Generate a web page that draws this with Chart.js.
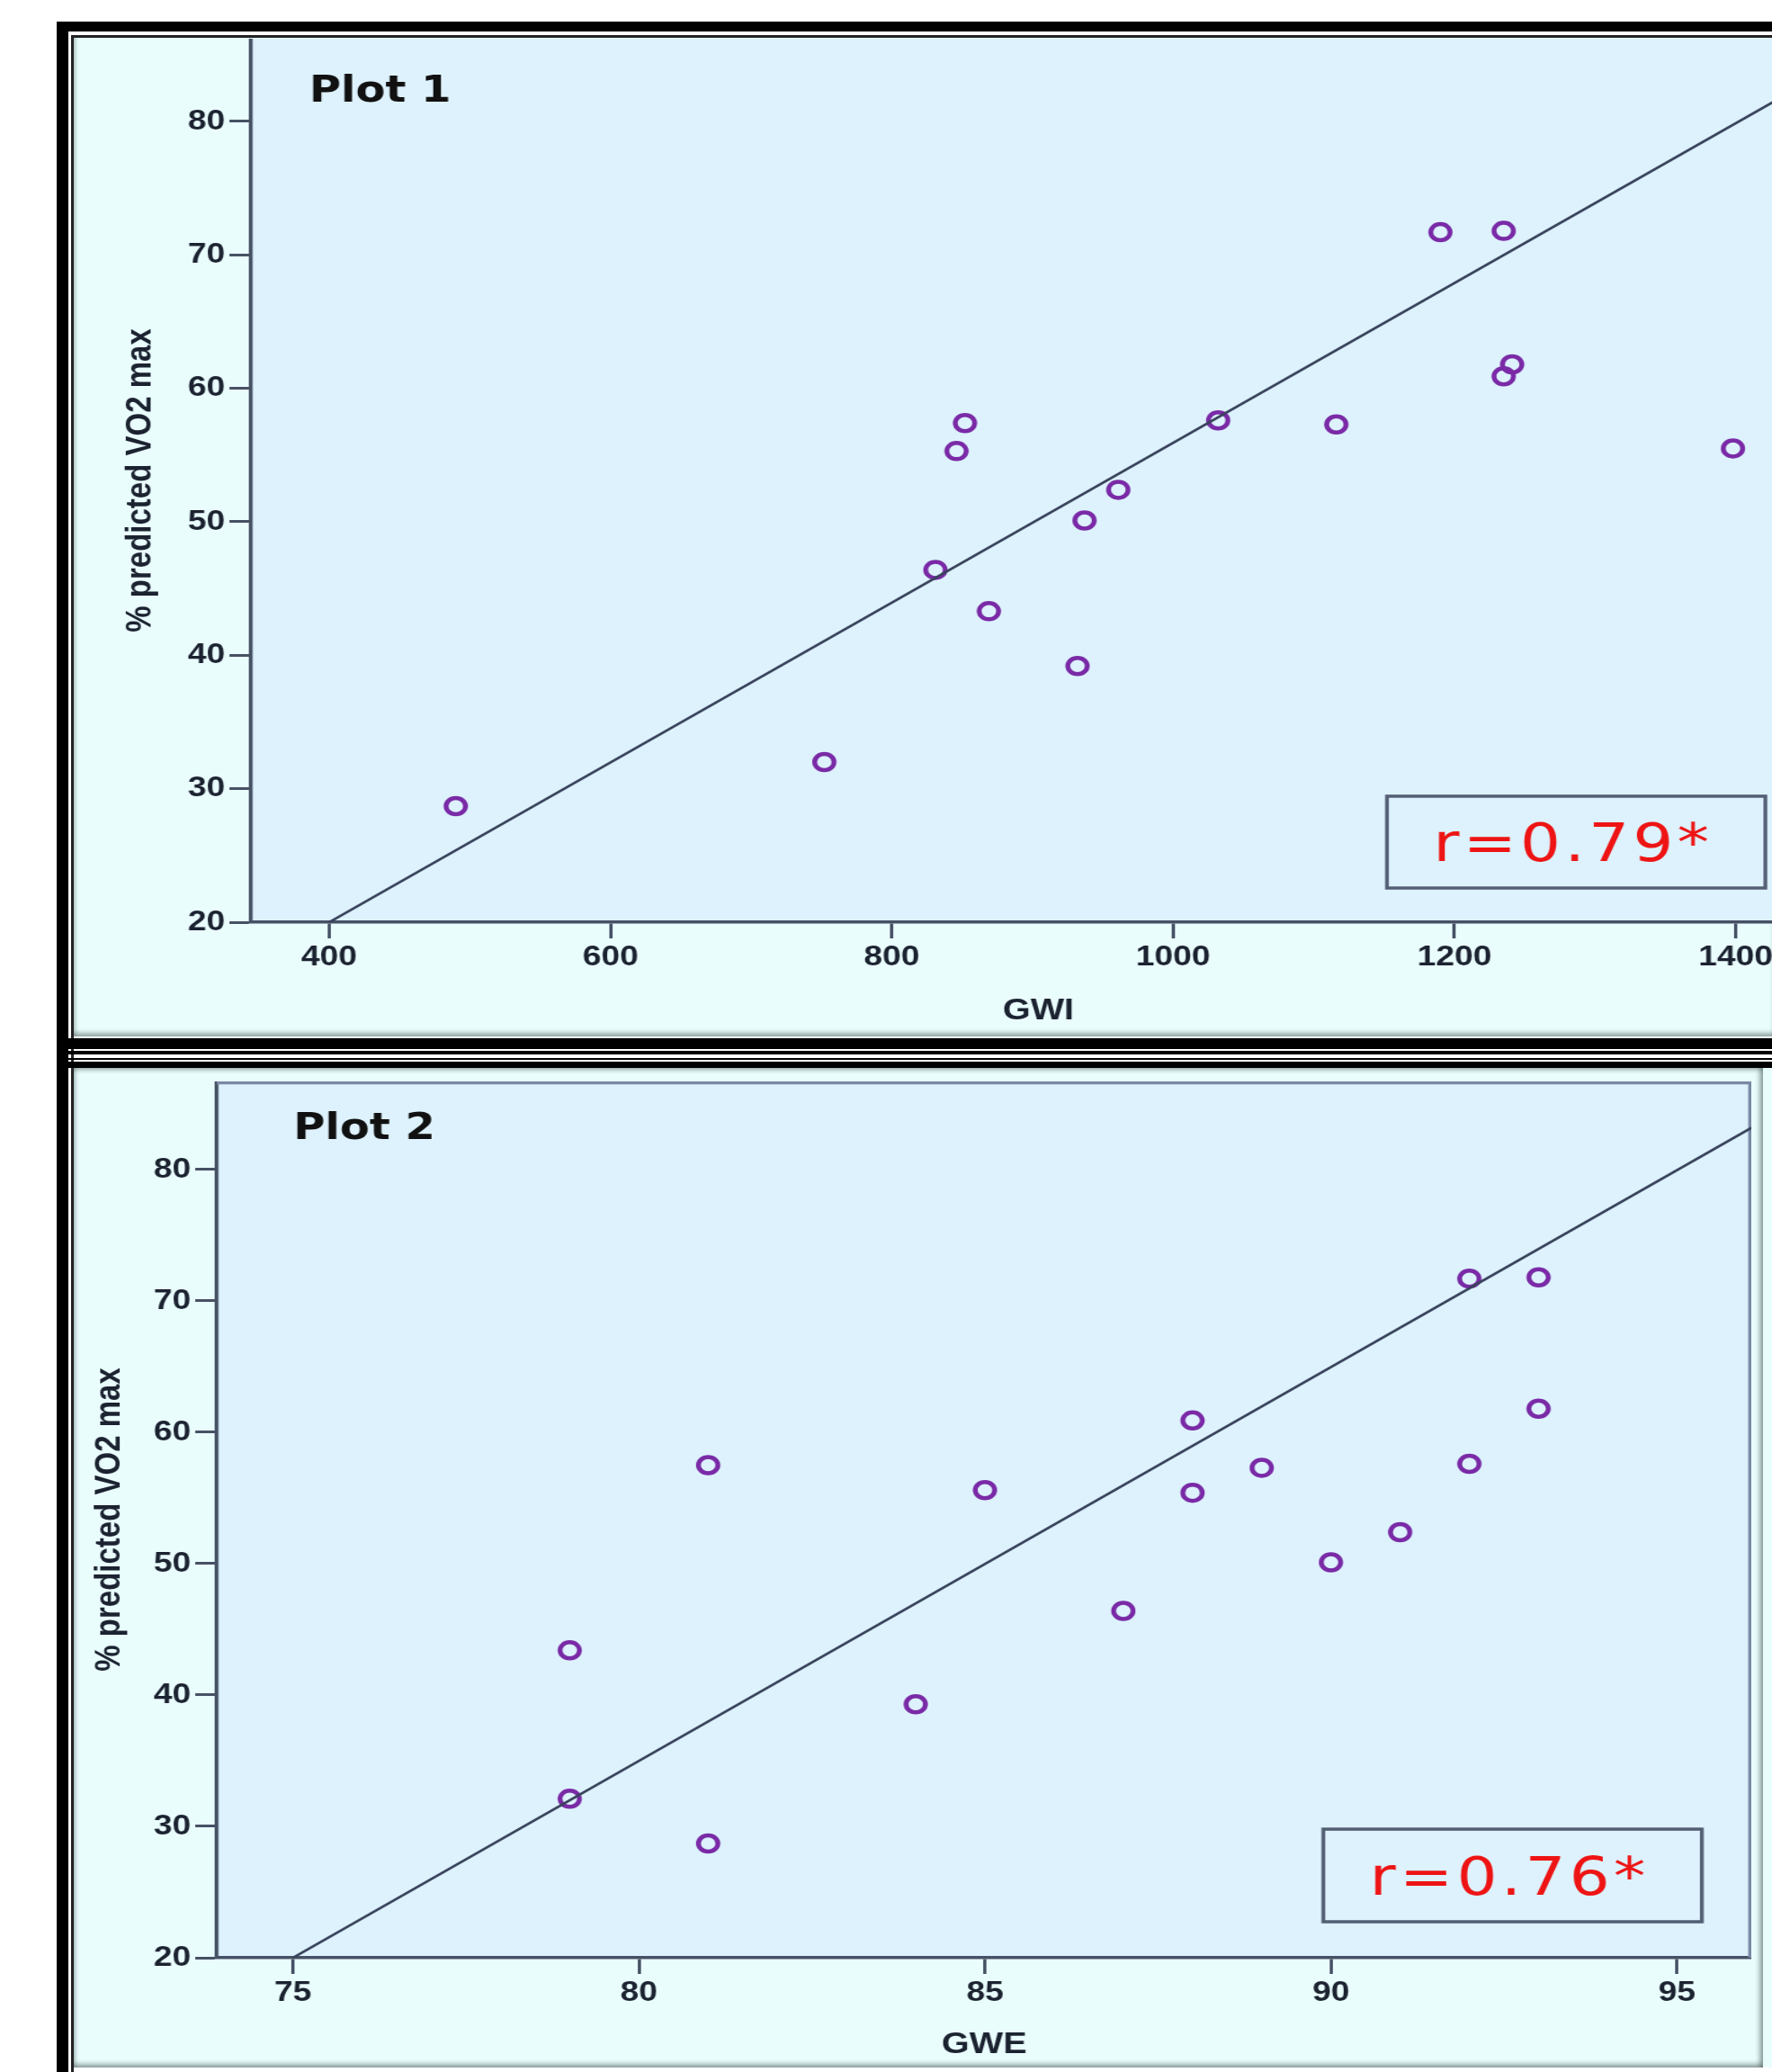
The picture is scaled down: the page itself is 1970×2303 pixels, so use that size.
<!DOCTYPE html>
<html>
<head>
<meta charset="utf-8">
<title>% predicted VO2 max vs GWI / GWE</title>
<script src="https://cdn.jsdelivr.net/npm/chart.js@4.4.1/dist/chart.umd.min.js"></script>
<style>
  html, body { margin: 0; padding: 0; background: #fff; overflow: hidden; }
  body { position: relative; width: 1970px; height: 2303px; }
  .bar { position: absolute; background: #000; }
  .panel { position: absolute; background: #eafdfd; }
  /* the source picture is stretched sideways, so each chart is drawn narrow and widened */
  .chartbox { position: absolute; transform: scaleX(1.2); transform-origin: 0 0; }
  .chartbox canvas { display: block; }
</style>
</head>
<body>
  <!-- outer frame -->
  <div class="bar" style="left:63px;top:24px;width:1907px;height:11px"></div>
  <div class="bar" style="left:63px;top:24px;width:13px;height:2279px"></div>
  <div class="bar" style="left:79px;top:39px;width:1891px;height:3px;background:#222"></div>
  <div class="bar" style="left:79px;top:39px;width:3px;height:2264px;background:#222"></div>

  <!-- panel 1 -->
  <div class="panel" style="left:82px;top:42px;width:1888px;height:1110px;box-shadow:inset 0 -6px 5px -2px rgba(70,90,90,.5), inset 4px 0 4px -2px rgba(70,90,90,.35)"></div>

  <!-- separator between the two plots -->
  <div class="bar" style="left:63px;top:1154px;width:1907px;height:12px"></div>
  <div class="bar" style="left:63px;top:1168px;width:1907px;height:4px"></div>
  <div class="bar" style="left:63px;top:1176px;width:1907px;height:2px"></div>
  <div class="bar" style="left:63px;top:1180px;width:1907px;height:7px"></div>

  <!-- panel 2 -->
  <div class="panel" style="left:82px;top:1187px;width:1878px;height:1111px;box-shadow:inset 0 -6px 5px -2px rgba(70,90,90,.5), inset -6px 0 5px -2px rgba(70,90,90,.5), inset 4px 0 4px -2px rgba(70,90,90,.35), inset 0 5px 4px -2px rgba(70,90,90,.35)"></div>
  <div class="panel" style="left:1960px;top:1187px;width:10px;height:1111px"></div>

  <div class="chartbox" style="left:99px;top:43px;"><canvas id="plot1" width="1609" height="1107"></canvas></div>
  <div class="chartbox" style="left:61px;top:1202px;"><canvas id="plot2" width="1572" height="1096"></canvas></div>

<script>
// ---- data ----
var gwiValues = [490, 752, 831, 846, 852, 869, 932, 937, 961, 1032, 1116, 1190, 1235, 1235, 1241, 1398];
var vo2Plot1  = [28.7, 32.0, 46.4, 55.3, 57.4, 43.3, 39.2, 50.1, 52.4, 57.6, 57.3, 71.7, 71.8, 60.9, 61.8, 55.5];

var gweValues = [79, 79, 81, 81, 84, 85, 87, 88, 88, 89, 90, 91, 92, 92, 93, 93];
var vo2Plot2  = [43.4, 32.1, 57.5, 28.7, 39.3, 55.6, 46.4, 60.9, 55.4, 57.3, 50.1, 52.4, 71.7, 57.6, 71.8, 61.8];

// fit line end points
var fitGwiX = [400, 1464];
var fitGwiY = [20, 83.7];
var fitGweX = [75, 96.08];
var fitGweY = [20, 83.2];

// tick labels
var gwiTicks = [400, 600, 800, 1000, 1200, 1400];
var gweTicks = [75, 80, 85, 90, 95];
var vo2Ticks = [20, 30, 40, 50, 60, 70, 80];

var plotNames = ['Plot 1', 'Plot 2'];
var rLabels = ['r=0.79*', 'r=0.76*'];
var yTitle = '% predicted VO2 max';
var xTitles = ['GWI', 'GWE'];

// ---- styles ----
var AXIS_COLOR = '#465165';
var TICK_FONT = { family: '"Liberation Sans", Arial, sans-serif', size: 31, weight: 'bold' };
var TITLE_FONT = { family: '"Liberation Sans", Arial, sans-serif', size: 33, weight: 'bold' };

function toPoints(xs, ys) {
    return xs.map(function (x, i) { return { x: x, y: ys[i] }; });
}

// fixed axis box sizes so the plot area lands where it is in the picture
function fixSize(size) {
    return function (scale) {
        if (scale.isHorizontal()) scale.height = size; else scale.width = size;
        scale.paddingLeft = 0; scale.paddingRight = 0;
        scale.paddingTop = 0; scale.paddingBottom = 0;
    };
}

function useTicks(list) {
    return function (scale) {
        scale.ticks = list.map(function (v) { return { value: v }; });
    };
}

// plot background, frame, "Plot n" label and r box
var decorPlugin = {
    id: 'decor',
    beforeDraw: function (chart, args, opts) {
        var a = chart.chartArea, ctx = chart.ctx;
        ctx.save();
        ctx.fillStyle = '#ddf2fd';
        ctx.fillRect(a.left, a.top, a.right - a.left, a.bottom - a.top);
        ctx.restore();
    },
    beforeDatasetsDraw: function (chart, args, opts) {
        var a = chart.chartArea, ctx = chart.ctx;
        var xs = chart.scales.x, ys = chart.scales.y;
        ctx.save();
        if (opts.frame) {
            ctx.strokeStyle = '#7a89a4';
            ctx.lineWidth = 3.5;
            ctx.beginPath();
            ctx.moveTo(a.left, a.top + 1.5);
            ctx.lineTo(a.right - 1.5, a.top + 1.5);
            ctx.lineTo(a.right - 1.5, a.bottom);
            ctx.stroke();
        }

        ctx.fillStyle = '#111';
        ctx.font = 'bold 40px "DejaVu Sans"';
        ctx.textAlign = 'left';
        ctx.textBaseline = 'alphabetic';
        ctx.fillText(opts.name, a.left + opts.nameDx, a.top + opts.nameDy);

        var x0 = xs.getPixelForValue(opts.box.xMin), x1 = xs.getPixelForValue(opts.box.xMax);
        var y0 = ys.getPixelForValue(opts.box.yMax), y1 = ys.getPixelForValue(opts.box.yMin);
        ctx.strokeStyle = '#535e74';
        ctx.lineWidth = 3.5;
        ctx.strokeRect(x0, y0, x1 - x0, y1 - y0);

        ctx.fillStyle = '#ee1414';
        ctx.font = '59px "DejaVu Sans"';
        ctx.letterSpacing = '3.5px';
        ctx.textAlign = 'center';
        ctx.fillText(opts.rText, (x0 + x1) / 2 - 3, y1 - 30);
        ctx.restore();
    }
};

function makePlot(canvasId, cfg) {
    var canvas = document.getElementById(canvasId);
    if (!canvas) return;
    return new Chart(canvas.getContext('2d'), {
        type: 'scatter',
        data: {
            datasets: [{
                type: 'line',
                data: cfg.fit,
                borderColor: '#38425a',
                borderWidth: 2.7,
                pointRadius: 0,
                fill: false,
                order: 0
            }, {
                data: cfg.points,
                pointStyle: 'circle',
                pointRadius: 9,
                pointBorderWidth: 4.5,
                pointBorderColor: '#7a2aa6',
                pointBackgroundColor: 'rgba(0,0,0,0)',
                order: 1
            }]
        },
        options: {
            responsive: false,
            animation: false,
            events: [],
            layout: { padding: 0, autoPadding: false },
            plugins: {
                legend: { display: false },
                tooltip: { enabled: false },
                decor: cfg.decor
            },
            scales: {
                x: {
                    type: 'linear',
                    position: 'bottom',
                    min: cfg.xMin, max: cfg.xMax,
                    afterBuildTicks: useTicks(cfg.xTicks),
                    afterFit: fixSize(cfg.xHeight),
                    grid: { drawOnChartArea: false, drawTicks: true, tickLength: 18, tickWidth: 3, tickColor: AXIS_COLOR },
                    border: { display: true, color: AXIS_COLOR, width: 3.5 },
                    ticks: {
                        font: TICK_FONT, color: '#1b2230', padding: 3, maxRotation: 0, autoSkip: false,
                        callback: function (v) { return String(v); }
                    },
                    title: { display: true, text: cfg.xTitle, font: TITLE_FONT, color: '#1b2230', padding: { top: 0, bottom: cfg.xTitlePad } }
                },
                y: {
                    type: 'linear',
                    position: 'left',
                    min: 20, max: cfg.yMax,
                    afterBuildTicks: useTicks(vo2Ticks),
                    afterFit: fixSize(150),
                    grid: { drawOnChartArea: false, drawTicks: true, tickLength: 20, tickWidth: 3, tickColor: AXIS_COLOR },
                    border: { display: true, color: AXIS_COLOR, width: 3.5 },
                    ticks: {
                        font: TICK_FONT, color: '#1b2230', padding: 4, autoSkip: false,
                        callback: function (v) { return String(v); }
                    },
                    title: { display: true, text: yTitle, font: TITLE_FONT, color: '#1b2230', padding: { top: cfg.yTitlePad, bottom: 0 } }
                }
            }
        },
        plugins: [decorPlugin]
    });
}

makePlot('plot1', {
    points: toPoints(gwiValues, vo2Plot1),
    fit: toPoints(fitGwiX, fitGwiY),
    xMin: 344.4, xMax: 1464, yMax: 86.2,
    xTicks: gwiTicks,
    xTitle: xTitles[0],
    xHeight: 125, xTitlePad: 6, yTitlePad: 28.5,
    decor: {
        frame: false, name: plotNames[0], nameDx: 54, nameDy: 70, rText: rLabels[0],
        box: { xMin: 1152, xMax: 1421, yMin: 22.56, yMax: 29.44 }
    }
});

makePlot('plot2', {
    points: toPoints(gweValues, vo2Plot2),
    fit: toPoints(fitGweX, fitGweY),
    xMin: 73.9, xMax: 96.08, yMax: 86.71,
    xTicks: gweTicks,
    xTitle: xTitles[1],
    xHeight: 122, xTitlePad: 5, yTitlePad: 31.1,
    decor: {
        frame: true, name: plotNames[1], nameDx: 71, nameDy: 64, rText: rLabels[1],
        box: { xMin: 89.89, xMax: 95.36, yMin: 22.74, yMax: 29.79 }
    }
});
</script>
</body>
</html>
